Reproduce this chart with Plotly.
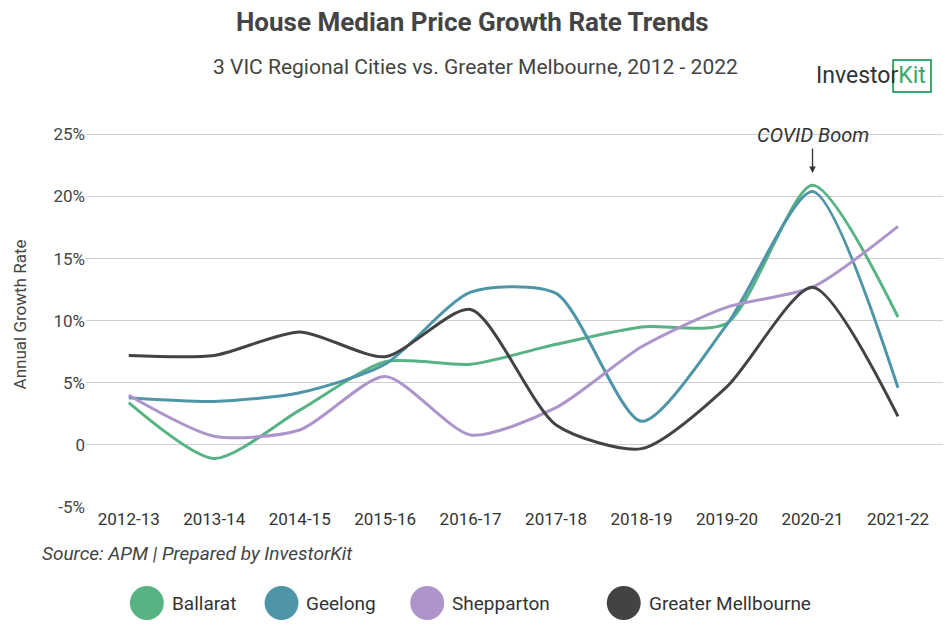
import plotly.graph_objects as go

years = ["2012-13", "2013-14", "2014-15", "2015-16", "2016-17", "2017-18",
         "2018-19", "2019-20", "2020-21", "2021-22"]
ballarat = [3.4, -1.1, 2.8, 6.7, 6.5, 8.1, 9.5, 9.8, 20.9, 10.3]
geelong = [3.8, 3.5, 4.2, 6.5, 12.3, 12.2, 1.9, 9.7, 20.4, 4.6]
shepparton = [4.0, 0.7, 1.2, 5.5, 0.8, 3.0, 7.9, 11.1, 12.7, 17.6]
melbourne = [7.2, 7.2, 9.1, 7.1, 10.9, 1.6, -0.3, 4.7, 12.7, 2.3]

series = [
    ("Ballarat", ballarat, "#57b383"),
    ("Geelong", geelong, "#4f95a8"),
    ("Shepparton", shepparton, "#ad94cb"),
    ("Greater Mellbourne", melbourne, "#434343"),
]

FONT = "Roboto, sans-serif"
OFF = 8  # page body margin
L, R, T, B = 76, 14, 114, 131
PW, PH = 951 - L - R, 630 - T - B


def px(x):  # screen pixel -> paper x
    return (x - OFF - L) / PW


def py(y):  # screen pixel -> paper y
    return (630 - B - (y - OFF)) / PH


fig = go.Figure()
for name, vals, col in series:
    fig.add_scatter(
        x=years, y=vals, name=name, mode="lines", showlegend=False,
        line=dict(color=col, width=3, shape="spline", smoothing=0.7),
    )

# hand-made legend with big circles
legend_x = [145, 280, 426, 623]
for (name, _, col), cx in zip(series, legend_x):
    fig.add_shape(type="circle", xref="paper", yref="paper",
                  x0=px(cx - 17), x1=px(cx + 17), y0=py(620), y1=py(586),
                  fillcolor=col, line=dict(width=0))
    fig.add_annotation(xref="paper", yref="paper", x=px(cx + 23), y=py(603),
                       xanchor="left", yanchor="middle", showarrow=False, text=name,
                       font=dict(family=FONT, size=19, color="#333"))

fig.add_annotation(
    x="2020-21", y=21.9, ax=0, ay=-38, text="<i>COVID Boom</i>", showarrow=True,
    arrowhead=2, arrowsize=1, arrowwidth=1.3, arrowcolor="#333",
    font=dict(family=FONT, size=20, color="#333"),
)
fig.add_annotation(
    xref="paper", yref="paper", x=px(38), y=py(553), xanchor="left", yanchor="middle",
    showarrow=False, text="<i>Source: APM | Prepared by InvestorKit</i>",
    font=dict(family=FONT, size=19, color="#444"),
)
fig.add_annotation(
    xref="paper", yref="paper", x=px(471), y=py(22), yanchor="middle", showarrow=False,
    text="<b>House Median Price Growth Rate Trends</b>",
    font=dict(family=FONT, size=26, color="#444"),
)
fig.add_annotation(
    xref="paper", yref="paper", x=px(474), y=py(67), yanchor="middle", showarrow=False,
    text="3 VIC Regional Cities vs. Greater Melbourne, 2012 - 2022",
    font=dict(family=FONT, size=21, color="#444"),
)
fig.add_annotation(
    xref="paper", yref="paper", x=px(928), y=py(76), xanchor="right", yanchor="middle",
    showarrow=False, text="Investor<span style='color:#3aa86b'>Kit</span>",
    font=dict(family=FONT, size=23, color="#333"),
)
fig.add_shape(type="rect", xref="paper", yref="paper", x0=px(893), x1=px(931),
              y0=py(92), y1=py(60), line=dict(color="#3aa86b", width=2))

fig.update_layout(
    width=951, height=630, paper_bgcolor="white", plot_bgcolor="white",
    margin=dict(l=L, r=R, t=T, b=B),
    font=dict(family=FONT, color="#444"),
    showlegend=False,
    xaxis=dict(showgrid=False, tickfont=dict(size=17, color="#333"),
               range=[-0.5, 9.55], ticks=""),
    yaxis=dict(range=[-5, 26], tickvals=[-5, 0, 5, 10, 15, 20, 25],
               ticktext=["-5%", "0", "5%", "10%", "15%", "20%", "25%"],
               gridcolor="#cfcfcf", zeroline=False,
               tickfont=dict(size=17, color="#444"),
               title=dict(text="Annual Growth Rate", font=dict(size=17, color="#444"),
                          standoff=22)),
)
fig.write_html("out.html")
